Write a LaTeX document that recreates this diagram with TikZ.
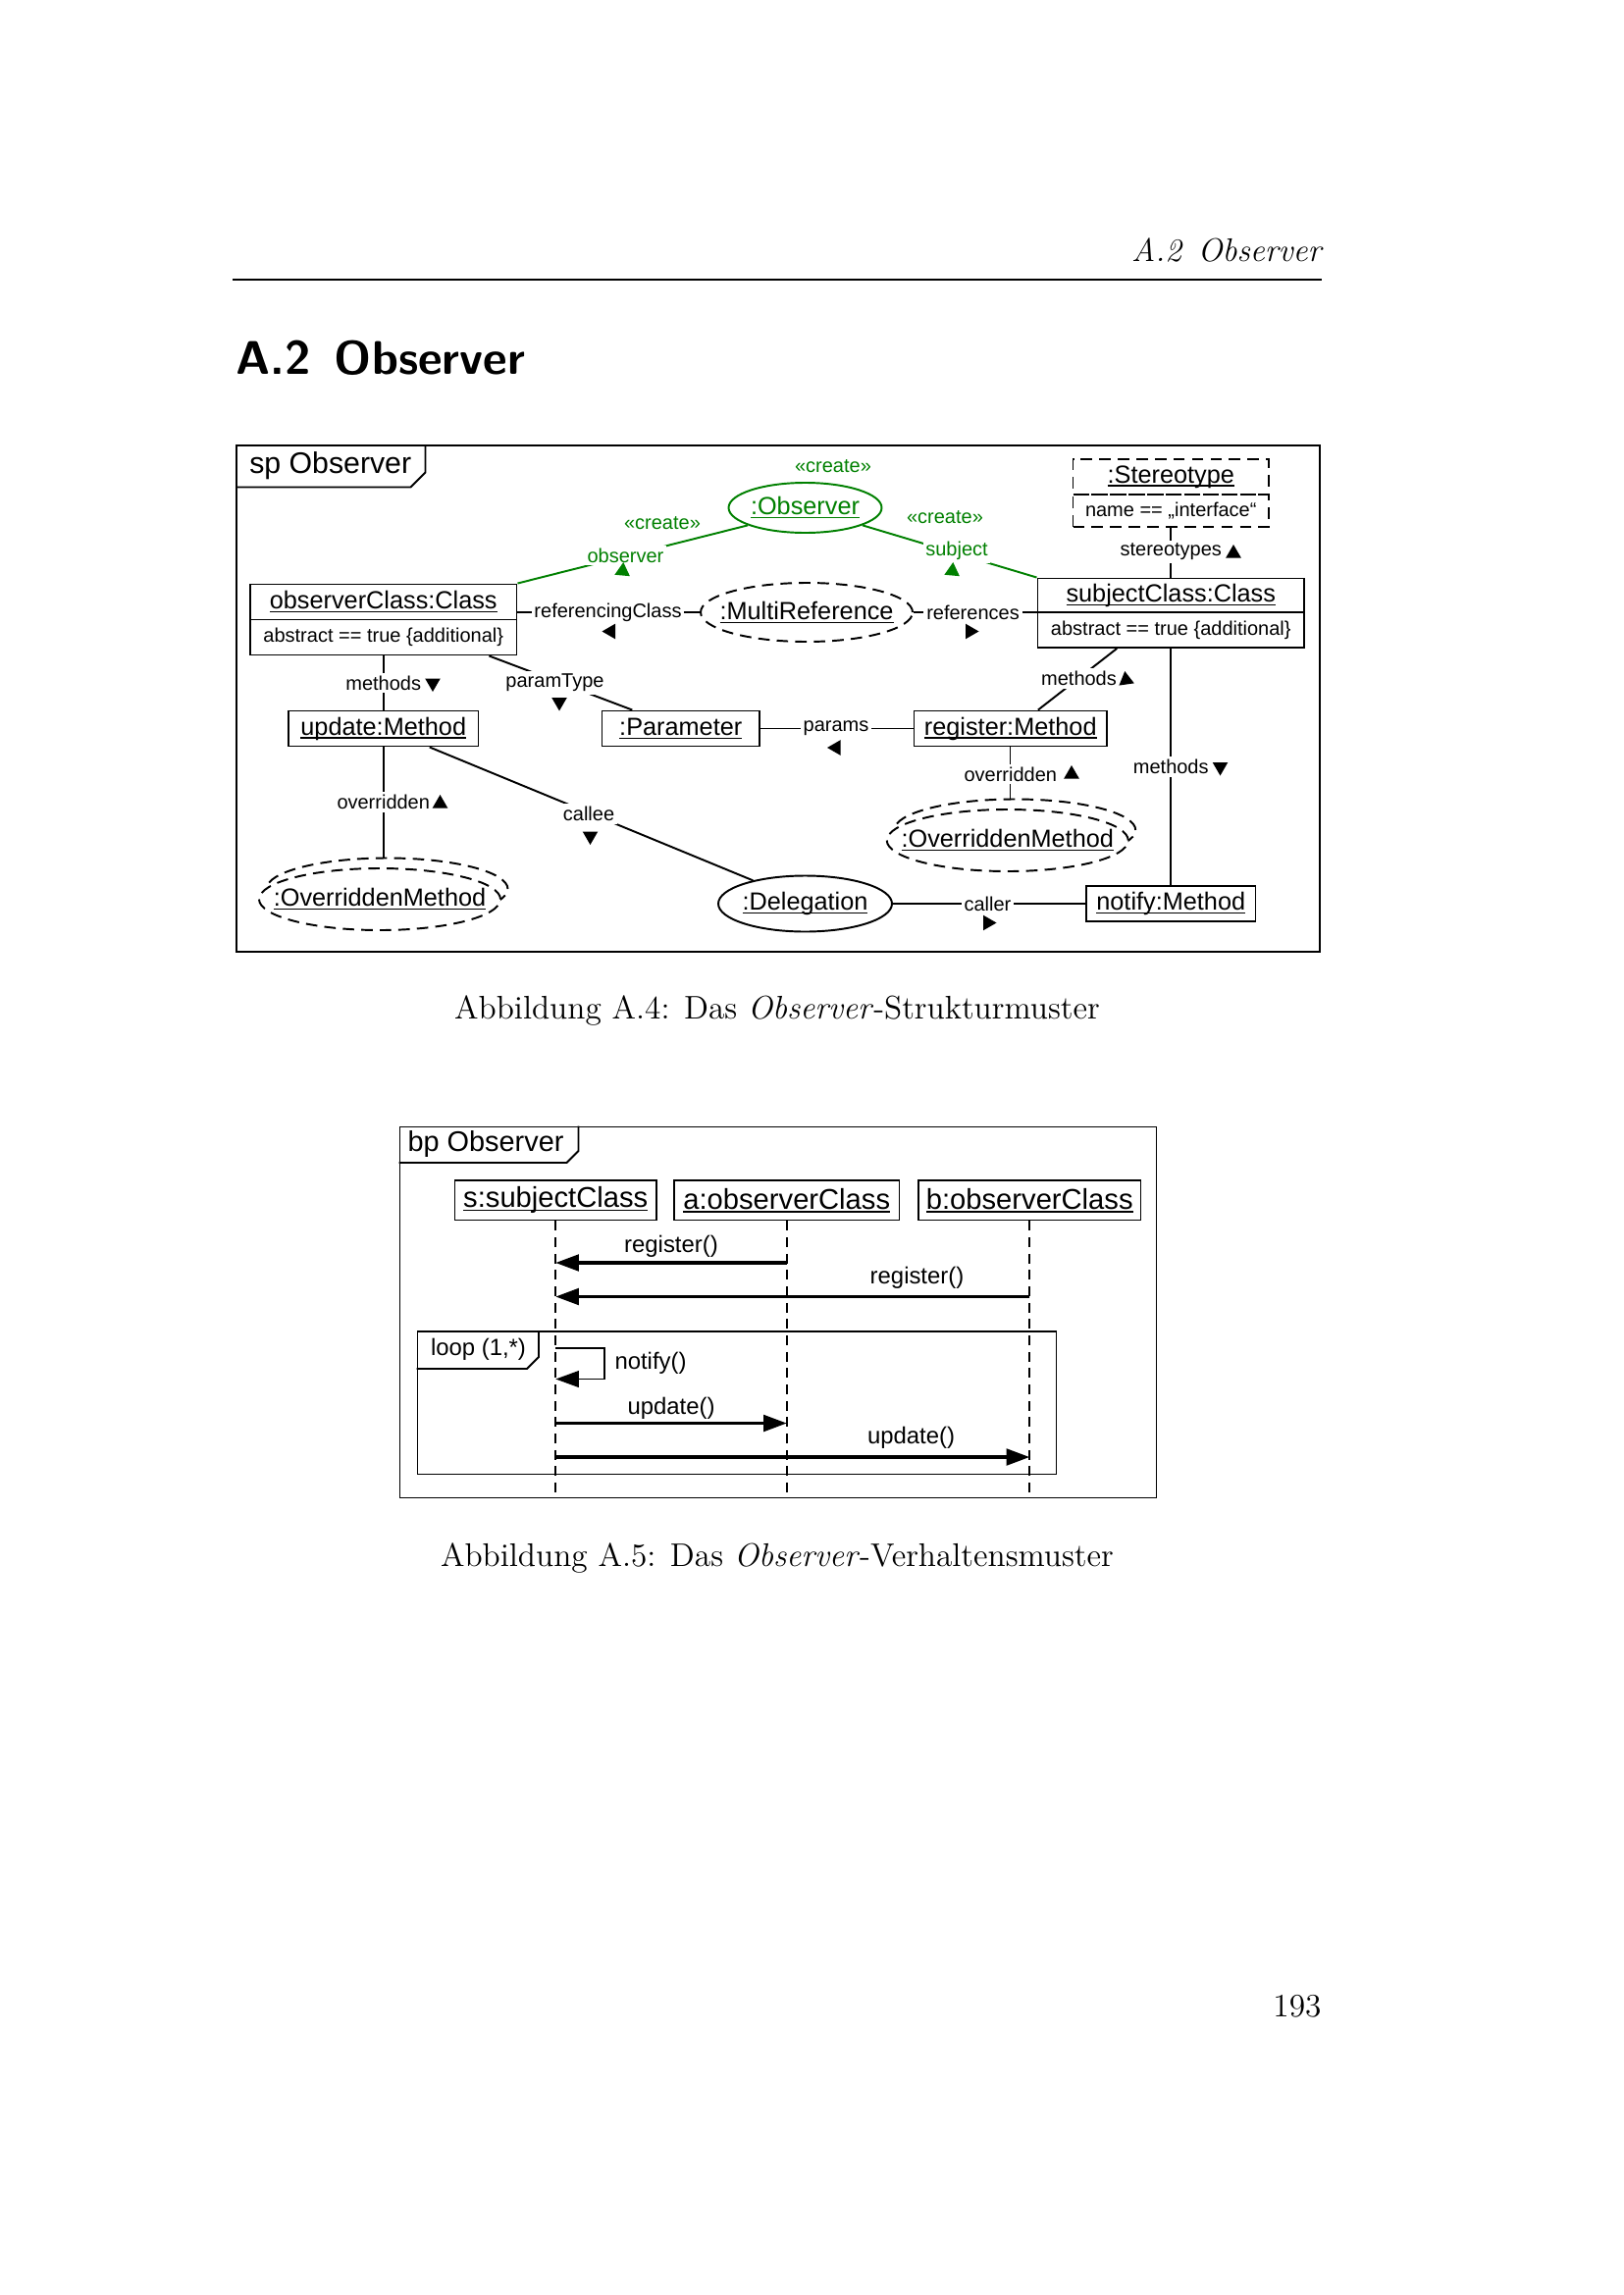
\documentclass[tikz,border=0pt]{standalone}
\usepackage{fontspec}
\newfontfamily\dfont{Liberation Sans}
\usetikzlibrary{shapes.geometric,arrows.meta,calc}
\definecolor{umlgreen}{RGB}{0,128,0}
\newcommand\objf{\dfont\fontsize{9.1}{11}\selectfont}
\newcommand\lblf{\dfont\fontsize{7.2}{8.6}\selectfont}
\newcommand\tabf{\dfont\fontsize{10.9}{13}\selectfont}
\newcommand\seqf{\dfont\fontsize{10.5}{12.6}\selectfont}
\newcommand\seqtabf{\dfont\fontsize{10.4}{12.5}\selectfont}
\newcommand\msgf{\dfont\fontsize{8.6}{10.3}\selectfont}
\newcommand\capf{\fontsize{12}{14.5}\selectfont}
\newcommand\ulx[1]{\setbox0=\hbox{#1}\rlap{\rule[-1.3pt]{\wd0}{0.5pt}}\box0}
\newcommand\mytri[4]{\fill[#4, shift={(#1,#2)}, rotate=#3] (0:6) -- (120:6) -- (240:6) -- cycle;}
\tikzset{
  umlbox/.style 2 args={draw, rectangle, line width=0.7pt, inner sep=0pt, minimum width=#1*0.54pt, minimum height=#2*0.54pt, font=\objf},
  attrbox/.style 2 args={umlbox={#1}{#2}, font=\lblf},
  umlell/.style 2 args={draw, ellipse, line width=0.7pt, inner sep=0pt, minimum width=#1*0.54pt, minimum height=#2*0.54pt, font=\objf},
  dashell/.style={dash pattern=on 4.2pt off 2.6pt},
  conn/.style={line width=0.7pt},
  lbl/.style={fill=white, inner sep=1pt, font=\lblf},
  msg/.style={line width=1.1pt, -{Triangle[length=8.5pt,width=6pt]}},
  msgthin/.style={line width=0.7pt, -{Triangle[length=8.5pt,width=6pt]}},
  lifeline/.style={line width=0.6pt, dash pattern=on 3.5pt off 2.5pt},
  umlframe/.style 2 args={draw, line width=0.7pt, inner sep=0pt, minimum width=#1*0.54pt, minimum height=#2*0.54pt, anchor=north west},
}
\begin{document}
\begin{tikzpicture}[x=0.54pt,y=-0.54pt]
\useasboundingbox (0,0) rectangle (1102.67,1559.33);

% page header
\node[font={\capf\itshape}, anchor=base east, inner sep=0pt] (hd) at (898,178) {A.2\enskip Observer};
\draw[line width=0.4pt] (158,190) -- (898,190);
\node[font={\sffamily\bfseries\fontsize{17.3}{20}\selectfont}, anchor=base west, inner sep=0pt] (sec) at (160,254) {A.2\enskip Observer};

% ===== structure diagram =====
\node[umlframe={736}{344}] (frA) at (160,302) {};
\draw[line width=0.7pt] (160,331) -- (279,331) -- (289,321) -- (289,302);
\node[font=\tabf, inner sep=0pt] (tA) at (224.5,316.5) {sp Observer};

\node[umlell={104}{34}, draw=umlgreen, text=umlgreen] (obs) at (547,345) {\makebox[0pt]{\ulx{:Observer}}};
\node[lbl, fill=none, text=umlgreen] (cr0) at (566,317) {«create»};

\node[umlbox={181}{24}] (obsT) at (260.5,409) {\ulx{observerClass:Class}};
\node[attrbox={181}{24}] (obsA) at (260.5,433) {abstract == true \{additional\}};
\node[umlbox={181}{23}] (subjT) at (795.5,404.5) {\ulx{subjectClass:Class}};
\node[attrbox={181}{24}] (subjA) at (795.5,428) {abstract == true \{additional\}};
\node[umlbox={133}{24}, dashell] (stT) at (795.5,324) {\ulx{:Stereotype}};
\node[attrbox={133}{22}, dashell] (stA) at (795.5,347) {name == „interface“};

\node[umlell={144}{40}, dashell] (mref) at (548,416) {\makebox[0pt]{\ulx{:MultiReference}}};

\node[umlbox={129}{24}] (upd) at (260.5,495) {\ulx{update:Method}};
\node[umlbox={107}{24}] (par) at (462.5,495) {\ulx{:Parameter}};
\node[umlbox={131}{24}] (reg) at (686.5,495) {\ulx{register:Method}};

\node[umlell={164}{42}, dashell] (omRb) at (689.5,564) {};
\node[umlell={164}{42}, dashell, fill=white] (omR) at (684.5,571) {\makebox[0pt]{\ulx{:OverriddenMethod}}};
\node[umlell={164}{42}, dashell] (omLb) at (263,604) {};
\node[umlell={164}{42}, dashell, fill=white] (omL) at (258,611) {\makebox[0pt]{\ulx{:OverriddenMethod}}};

\node[umlell={118}{38}] (del) at (547,614) {\makebox[0pt]{\ulx{:Delegation}}};
\node[umlbox={115}{24}] (ntf) at (795.5,614) {\ulx{notify:Method}};

% connectors
\draw[conn, umlgreen] (obs.197) -- (obsT.north east);
\draw[conn, umlgreen] (obs.-17) -- (subjT.north west);
\draw[conn] (obsT.east |- mref.west) -- (mref.west);
\draw[conn] (mref.east) -- (subjT.west |- mref.east);
\draw[conn] (stA.south) -- (subjT.north);
\draw[conn] (obsA.south) -- (upd.north);
\draw[conn] (obsA.-10.5) -- (par.159.7);
\draw[conn] (par.east) -- (reg.west);
\draw[conn] (subjA.199.7) -- (reg.34.4);
\draw[conn] (subjA.south) -- (ntf.north);
\draw[line width=0.4pt] (reg.south) -- (reg.south |- omRb.north);
\draw[conn] (upd.south) -- (upd.south |- omLb.north);
\draw[conn] (upd.-22.1) -- (del.156.6);
\draw[conn] (del.east) -- (ntf.west);

% labels
\node[lbl, text=umlgreen] (lob) at (425,377.5) {observer};
\node[lbl, fill=none, text=umlgreen] (lcr1) at (450,355.5) {«create»};
\mytri{423}{388}{85}{umlgreen}
\node[lbl, text=umlgreen] (lsu) at (650,374.5) {subject};
\node[lbl, fill=none, text=umlgreen] (lcr2) at (642,351.5) {«create»};
\mytri{647}{388}{85}{umlgreen}
\node[lbl] (lrc) at (413,416) {referencingClass};
\mytri{415}{429}{180}{black}
\node[lbl] (lrf) at (661,416) {references};
\mytri{659}{429}{0}{black}
\node[lbl] (lst) at (795.5,375) {stereotypes};
\mytri{838}{376}{90}{black}
\node[lbl] (lm1) at (260.5,464) {methods};
\mytri{294}{464}{270}{black}
\node[lbl] (lpt) at (377,464) {paramType};
\mytri{380}{477}{270}{black}
\node[lbl] (lpa) at (568,495) {params};
\mytri{568}{508}{180}{black}
\node[lbl] (lm2) at (733,461) {methods};
\mytri{765}{462}{218}{black}
\node[lbl] (lov1) at (686.5,526) {overridden};
\mytri{728}{526}{90}{black}
\node[lbl] (lm3) at (795.5,521) {methods};
\mytri{829}{521}{270}{black}
\node[lbl] (lov2) at (260.5,545) {overridden};
\mytri{299}{546}{90}{black}
\node[lbl] (lca) at (400,553) {callee};
\mytri{401}{568}{270}{black}
\node[lbl] (lcl) at (671,614) {caller};
\mytri{671}{627}{0}{black}

\node[font=\capf, anchor=base, inner sep=0pt] (cap1) at (528,692) {Abbildung A.4: Das \textit{Observer}-Strukturmuster};

% ===== behaviour diagram =====
\node[umlframe={514}{252}] (frB) at (271,765) {};
\draw[line width=0.7pt] (271,790) -- (385,790) -- (393,782) -- (393,765);
\node[font=\seqtabf, inner sep=0pt] (tB) at (330,777.5) {bp Observer};

\node[umlbox={137}{27}, font=\seqf] (sH) at (377.5,815.5) {\ulx{s:subjectClass}};
\node[umlbox={153}{27}, font=\seqf] (aH) at (534.5,815.5) {\ulx{a:observerClass}};
\node[umlbox={151}{27}, font=\seqf] (bH) at (699.5,815.5) {\ulx{b:observerClass}};

\coordinate (yEnd) at (0,1015);
\coordinate (y1) at (0,858);
\coordinate (y2) at (0,881);
\coordinate (y3) at (0,916);
\coordinate (y4) at (0,937);
\coordinate (y5) at (0,967);
\coordinate (y6) at (0,990);

\draw[lifeline] (sH.south) -- (sH.south |- yEnd);
\draw[lifeline] (aH.south) -- (aH.south |- yEnd);
\draw[lifeline] (bH.south) -- (bH.south |- yEnd);

\node[umlframe={434}{97}] (loopF) at (283,904) {};
\draw[line width=0.7pt] (283,930) -- (358,930) -- (366,922) -- (366,904);
\node[font=\msgf, inner sep=0pt] (tL) at (325,917) {loop (1,*)};

\draw[msg] (aH.south |- y1) -- (sH.south |- y1);
\draw[msg] (bH.south |- y2) -- (sH.south |- y2);
\draw[msgthin] (sH.south |- y3) -- ++(33,0) |- (sH.south |- y4);
\draw[msg] (sH.south |- y5) -- (aH.south |- y5);
\draw[msg] (sH.south |- y6) -- (bH.south |- y6);

\node[font=\msgf, inner sep=0pt] (lr1) at (456,847) {register()};
\node[font=\msgf, inner sep=0pt] (lr2) at (623,868) {register()};
\node[font=\msgf, inner sep=0pt] (lnt) at (442,926) {notify()};
\node[font=\msgf, inner sep=0pt] (lu1) at (456,957) {update()};
\node[font=\msgf, inner sep=0pt] (lu2) at (619,977) {update()};

\node[font=\capf, anchor=base, inner sep=0pt] (cap2) at (528,1064) {Abbildung A.5: Das \textit{Observer}-Verhaltensmuster};

\node[font=\capf, anchor=base east, inner sep=0pt] (pg) at (898,1370) {193};
\end{tikzpicture}
\end{document}
